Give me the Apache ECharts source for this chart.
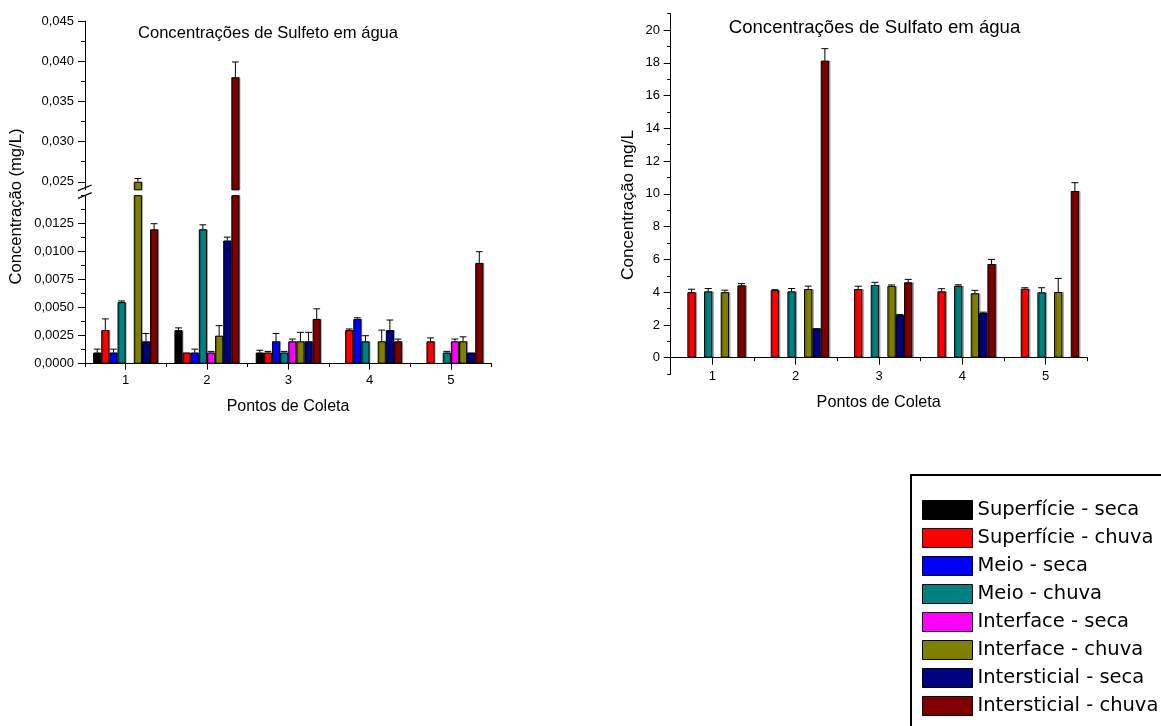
<!DOCTYPE html>
<html><head><meta charset="utf-8">
<script src="https://cdn.jsdelivr.net/npm/echarts@6/dist/echarts.min.js"></script>
<style>html,body{margin:0;padding:0;background:#fff}#c{width:1161px;height:726px}</style>
</head><body><div id="c"></div>
<script>
// ---------------- DATA ----------------
const categories = ['1', '2', '3', '4', '5'];
const seriesNames = ['Superfície - seca', 'Superfície - chuva', 'Meio - seca', 'Meio - chuva',
  'Interface - seca', 'Interface - chuva', 'Intersticial - seca', 'Intersticial - chuva'];
const seriesColors = ['#000000', '#FF0000', '#0000FF', '#008080', '#FF00FF', '#808000', '#000080', '#800000'];

// Sulfeto (mg/L), one value per Ponto de Coleta
const sulfeto_superficie_seca    = [0.0010, 0.0030, 0.0010, null, null];
const sulfeto_superficie_chuva   = [0.0030, 0.0010, 0.0010, 0.0030, 0.0020];
const sulfeto_meio_seca          = [0.0010, 0.0010, 0.0020, 0.0040, null];
const sulfeto_meio_chuva         = [0.0055, 0.0120, 0.0010, 0.0020, 0.0010];
const sulfeto_interface_seca     = [null, 0.0010, 0.0020, null, 0.0020];
const sulfeto_interface_chuva    = [0.0250, 0.0025, 0.0020, 0.0020, 0.0020];
const sulfeto_intersticial_seca  = [0.0020, 0.0110, 0.0020, 0.0030, 0.0010];
const sulfeto_intersticial_chuva = [0.0120, 0.0380, 0.0040, 0.0020, 0.0090];
// Sulfeto error (+)
const sulfeto_superficie_seca_err    = [0.0003, 0.0002, 0.0002, null, null];
const sulfeto_superficie_chuva_err   = [0.0010, 0, 0.0001, 0.0001, 0.0003];
const sulfeto_meio_seca_err          = [0.0003, 0.0003, 0.0007, 0.0001, null];
const sulfeto_meio_chuva_err         = [0.0001, 0.0004, 0.0001, 0.0005, 0.0001];
const sulfeto_interface_seca_err     = [null, 0.0001, 0.0002, null, 0.0002];
const sulfeto_interface_chuva_err    = [0.0004, 0.0009, 0.0008, 0.0010, 0.0004];
const sulfeto_intersticial_seca_err  = [0.0007, 0.0003, 0.0008, 0.0009, 0];
const sulfeto_intersticial_chuva_err = [0.0005, 0.0019, 0.0009, 0.0002, 0.0010];

// Sulfato (mg/L)
const sulfato_superficie_seca    = [null, null, null, null, null];
const sulfato_superficie_chuva   = [4.00, 4.12, 4.19, 4.05, 4.21];
const sulfato_meio_seca          = [null, null, null, null, null];
const sulfato_meio_chuva         = [4.05, 4.05, 4.44, 4.39, 3.99];
const sulfato_interface_seca     = [null, null, null, null, null];
const sulfato_interface_chuva    = [4.00, 4.19, 4.38, 3.93, 4.01];
const sulfato_intersticial_seca  = [null, 1.80, 2.60, 2.74, null];
const sulfato_intersticial_chuva = [4.42, 18.13, 4.60, 5.72, 10.17];
// Sulfato error (+)
const sulfato_superficie_seca_err    = [null, null, null, null, null];
const sulfato_superficie_chuva_err   = [0.18, 0.03, 0.17, 0.16, 0.06];
const sulfato_meio_seca_err          = [null, null, null, null, null];
const sulfato_meio_chuva_err         = [0.17, 0.17, 0.16, 0.06, 0.28];
const sulfato_interface_seca_err     = [null, null, null, null, null];
const sulfato_interface_chuva_err    = [0.12, 0.18, 0.06, 0.18, 0.83];
const sulfato_intersticial_seca_err  = [null, 0, 0.04, 0.04, null];
const sulfato_intersticial_chuva_err = [0.10, 0.73, 0.18, 0.28, 0.51];

const sulfetoValues = [sulfeto_superficie_seca, sulfeto_superficie_chuva, sulfeto_meio_seca, sulfeto_meio_chuva,
  sulfeto_interface_seca, sulfeto_interface_chuva, sulfeto_intersticial_seca, sulfeto_intersticial_chuva];
const sulfetoErrors = [sulfeto_superficie_seca_err, sulfeto_superficie_chuva_err, sulfeto_meio_seca_err, sulfeto_meio_chuva_err,
  sulfeto_interface_seca_err, sulfeto_interface_chuva_err, sulfeto_intersticial_seca_err, sulfeto_intersticial_chuva_err];
const sulfatoValues = [sulfato_superficie_seca, sulfato_superficie_chuva, sulfato_meio_seca, sulfato_meio_chuva,
  sulfato_interface_seca, sulfato_interface_chuva, sulfato_intersticial_seca, sulfato_intersticial_chuva];
const sulfatoErrors = [sulfato_superficie_seca_err, sulfato_superficie_chuva_err, sulfato_meio_seca_err, sulfato_meio_chuva_err,
  sulfato_interface_seca_err, sulfato_interface_chuva_err, sulfato_intersticial_seca_err, sulfato_intersticial_chuva_err];

// ---------------- LAYOUT ----------------
const FONT = '"Liberation Sans", Arial, sans-serif';
const LX = 85, LW = 406.5;
const LU_TOP = 21, LU_H = 168.8, LU_MIN = 0.024, LU_MAX = 0.045;   // upper segment
const LT_H = 160.8;                                                 // 0.025..0.045 ticks
const LL_TOP = 195.7, LL_H = 168, LL_MAX = 0.015;                   // lower segment
const LM_TOP = 223.7, LM_H = 140;                                   // 0..0.0125 major ticks
const RX = 670.7, RW = 416.7;
const RD_TOP = 13.6, RD_H = 344.1;   // 0..21
const RM_TOP = 30.0, RM_H = 327.7;   // 0..20
const RN_TOP = 13.6, RN_H = 360.5;   // -1..21

const grids = [], xAxes = [], yAxes = [];
function addGrid(g, xa, ya) {
  grids.push(Object.assign({ outerBoundsMode: 'none', containLabel: false }, g));
  const gi = grids.length - 1;
  xAxes.push(Object.assign({ gridIndex: gi }, xa));
  yAxes.push(Object.assign({ gridIndex: gi }, ya));
  return gi;
}
const hidX = { type: 'category', data: categories, show: false };
const hidY = { type: 'value', show: false };
const line = { show: true, lineStyle: { color: '#000', width: 1 } };
const noLine = { show: false };
const lbl = (margin, fmt) => ({ show: true, fontSize: 13, fontFamily: FONT, color: '#000', margin: margin, formatter: fmt });
const comma = d => v => v.toFixed(d).replace('.', ',');

// Left chart
const gLU = addGrid({ left: LX, top: LU_TOP, width: LW, height: LU_H }, hidX,
  { type: 'value', min: LU_MIN, max: LU_MAX, axisLine: line, axisTick: { show: false }, axisLabel: { show: false }, splitLine: { show: false } });
addGrid({ left: LX, top: LU_TOP, width: LW, height: LT_H }, hidX,
  { type: 'value', min: 0.025, max: 0.045, interval: 0.005, axisLine: noLine,
    axisTick: { show: true, length: 7, lineStyle: { color: '#000' } },
    minorTick: { show: true, splitNumber: 2, length: 4, lineStyle: { color: '#000' } },
    axisLabel: lbl(11, comma(3)), splitLine: { show: false } });
const gLL = addGrid({ left: LX, top: LL_TOP, width: LW, height: LL_H },
  { type: 'category', data: categories, axisLine: line, axisTick: { show: true, alignWithLabel: true, length: 6, lineStyle: { color: '#000' } },
    axisLabel: lbl(10) },
  { type: 'value', min: 0, max: LL_MAX, interval: 0.00125, axisLine: line,
    axisTick: { show: true, length: 4, lineStyle: { color: '#000' } }, axisLabel: { show: false }, splitLine: { show: false } });
addGrid({ left: LX, top: LM_TOP, width: LW, height: LM_H },
  { type: 'category', data: categories, show: false },
  { type: 'value', min: 0, max: 0.0125, interval: 0.0025, axisLine: noLine,
    axisTick: { show: true, length: 7, lineStyle: { color: '#000' } }, axisLabel: lbl(11, comma(4)), splitLine: { show: false } });
addGrid({ left: LX, top: LL_TOP, width: LW, height: LL_H },
  { type: 'category', data: categories, axisLine: noLine, axisTick: { show: true, alignWithLabel: false, length: 3.3, lineStyle: { color: '#000' } },
    axisLabel: { show: false } }, hidY);

// Right chart
const gRD = addGrid({ left: RX, top: RD_TOP, width: RW, height: RD_H },
  { type: 'category', data: categories, axisLine: line, axisTick: { show: true, alignWithLabel: true, length: 7, lineStyle: { color: '#000' } },
    axisLabel: lbl(12) },
  { type: 'value', min: 0, max: 21, show: false });
addGrid({ left: RX, top: RM_TOP, width: RW, height: RM_H }, hidX,
  { type: 'value', min: 0, max: 20, interval: 2, axisLine: noLine,
    axisTick: { show: true, length: 7, lineStyle: { color: '#000' } }, axisLabel: lbl(10.7), splitLine: { show: false } });
addGrid({ left: RX, top: RN_TOP, width: RW, height: RN_H }, hidX,
  { type: 'value', min: -1, max: 21, interval: 1, axisLine: line,
    axisTick: { show: true, length: 3.5, lineStyle: { color: '#000' } }, axisLabel: { show: false }, splitLine: { show: false } });
addGrid({ left: RX, top: RD_TOP, width: RW, height: RD_H },
  { type: 'category', data: categories, axisLine: noLine, axisTick: { show: true, alignWithLabel: false, length: 3.5, lineStyle: { color: '#000' } },
    axisLabel: { show: false } }, hidY);

// ---------------- SERIES ----------------
const series = [];
const customs = [];
function errRender(slot) {
  return function (params, api) {
    const cat = api.value(0), v = api.value(1), e = api.value(2);
    const p0 = api.coord([cat, v]);
    const p1 = api.coord([cat, v + e]);
    const band = api.size([1, 0])[0];
    const bw = band * 0.8 / 8;
    const x = p0[0] - band * 0.4 + (slot + 0.5) * bw;
    const cap = bw * 0.42;
    return { type: 'group', children: [
      { type: 'line', shape: { x1: x, y1: p0[1], x2: x, y2: p1[1] }, style: { stroke: '#000', lineWidth: 1 } },
      { type: 'line', shape: { x1: x - cap, y1: p1[1], x2: x + cap, y2: p1[1] }, style: { stroke: '#000', lineWidth: 1 } }
    ] };
  };
}
function addBars(gi, values, errors, keepBar, keepErr, shadow) {
  for (let i = 0; i < 8; i++) {
    series.push({
      type: 'bar', name: seriesNames[i], xAxisIndex: gi, yAxisIndex: gi,
      data: values[i].map(v => (v == null || !keepBar(v)) ? '-' : v),
      barGap: '0%', barCategoryGap: '20%',
      itemStyle: { color: seriesColors[i], borderColor: '#000', borderWidth: 1,
        shadowColor: 'rgba(0,0,0,0.28)', shadowOffsetX: shadow, shadowOffsetY: 0, shadowBlur: 0 }
    });
    const items = [];
    values[i].forEach((v, k) => {
      const e = errors[i][k];
      if (v != null && keepErr(v) && e != null && e > 0) items.push([k, v, e]);
    });
    customs.push({
      type: 'custom', name: seriesNames[i], coordinateSystem: 'cartesian2d', xAxisIndex: gi, yAxisIndex: gi,
      renderItem: errRender(i), data: items, encode: { x: 0, y: 1 }, z: 5, silent: true
    });
  }
}
addBars(gLU, sulfetoValues, sulfetoErrors, v => v >= LU_MIN, v => v >= LU_MIN && v <= LU_MAX, 1);
addBars(gLL, sulfetoValues, sulfetoErrors, v => true, v => v <= LL_MAX, 1);
addBars(gRD, sulfatoValues, sulfatoErrors, v => true, v => true, 1.5);

// ---------------- TEXTS ----------------
function txt(text, x, y, size, rot) {
  return { type: 'text', x: x, y: y, rotation: rot || 0, silent: true,
    style: { text: text, x: 0, y: 0, font: size + 'px ' + FONT, fill: '#000',
      align: 'center', verticalAlign: 'middle', textAlign: 'center', textVerticalAlign: 'middle' } };
}
const graphic = [
  txt('Concentrações de Sulfeto em água', 268, 33.7, 16.6),
  txt('Concentrações de Sulfato em água', 874.5, 27.7, 18.6),
  txt('Concentração (mg/L)', 16.5, 206.5, 16.6, Math.PI / 2),
  txt('Concentração mg/L', 628, 205, 17.2, Math.PI / 2),
  txt('Pontos de Coleta', 288, 406.5, 16),
  txt('Pontos de Coleta', 878.7, 402.5, 16.2),
  { type: 'line', silent: true, shape: { x1: LX - 7, y1: 190.7, x2: LX + 6.7, y2: 185 }, style: { stroke: '#000', lineWidth: 1.3 } },
  { type: 'line', silent: true, shape: { x1: LX - 7, y1: 198.3, x2: LX + 6.7, y2: 192.7 }, style: { stroke: '#000', lineWidth: 1.3 } }
];

const chart = echarts.init(document.getElementById('c'), null, { renderer: 'canvas' });
chart.setOption({
  animation: false,
  backgroundColor: '#fff',
  grid: grids, xAxis: xAxes, yAxis: yAxes,
  legend: {
    orient: 'vertical', left: 911, top: 475, width: 400, height: 400, padding: [25, 40, 40, 11],
    itemWidth: 50, itemHeight: 19, itemGap: 8, icon: 'rect',
    borderColor: '#000', borderWidth: 2, backgroundColor: '#fff', selectedMode: false,
    itemStyle: { borderColor: '#000', borderWidth: 1, shadowColor: 'transparent', shadowOffsetX: 0 },
    textStyle: { fontFamily: '"DejaVu Sans", sans-serif', fontSize: 19.5, color: '#000' },
    data: seriesNames
  },
  graphic: graphic,
  series: series.concat(customs)
});
</script>
</body></html>
